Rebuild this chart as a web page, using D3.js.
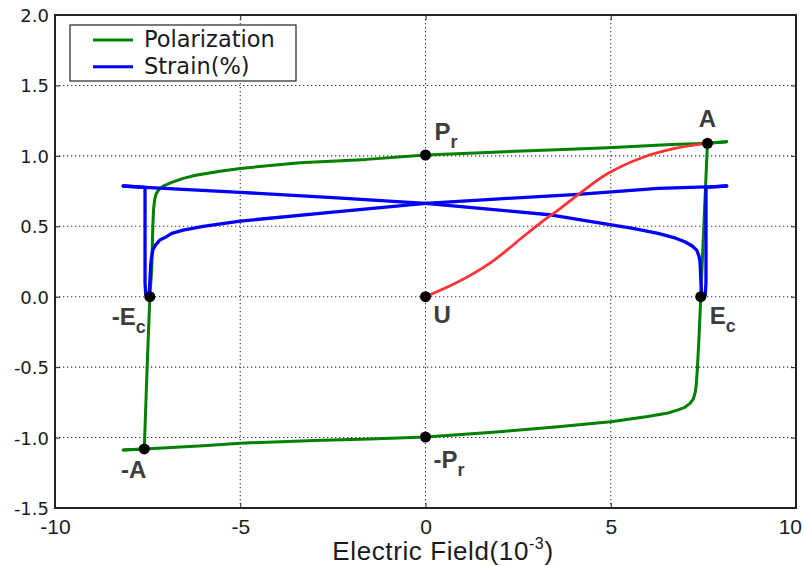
<!DOCTYPE html>
<html>
<head>
<meta charset="utf-8">
<script src="https://cdn.jsdelivr.net/npm/d3@7"></script>
<style>
  body { margin: 0; background: #fff; }
  svg { display: block; }
</style>
</head>
<body>
<svg id="chart" width="804" height="566"></svg>
<script>
// ---- Axis ticks ----
const xTicks = [-10, -5, 0, 5, 10];
const yTicks = [-1.5, -1.0, -0.5, 0.0, 0.5, 1.0, 1.5, 2.0];

// ---- Polarization hysteresis loop ----
// Rising branch: field increasing from the negative tip to the positive tip
const polRiseE = [-8.16, -7.59, -6.0, -5.0, -3.0, -1.5, 0.0, 2.01, 3.5, 5.0, 6.0, 6.51, 6.8, 7.0, 7.14, 7.23, 7.28, 7.31, 7.34, 7.38, 7.43, 7.52, 7.61, 8.13];
const polRiseP = [-1.088, -1.081, -1.058, -1.040, -1.020, -1.010, -0.996, -0.958, -0.925, -0.887, -0.850, -0.828, -0.805, -0.785, -0.757, -0.725, -0.680, -0.620, -0.500, -0.300, 0.0, 0.550, 1.089, 1.100];
// Falling branch: field decreasing from the positive tip to the negative tip
const polFallE = [8.13, 7.61, 6.5, 4.93, 3.0, 2.0, 0.0, -1.59, -3.39, -5.0, -5.55, -6.2, -6.54, -6.85, -7.08, -7.20, -7.27, -7.31, -7.34, -7.36, -7.39, -7.44, -7.52, -7.59, -8.16];
const polFallP = [1.100, 1.089, 1.078, 1.058, 1.038, 1.028, 1.006, 0.975, 0.951, 0.911, 0.890, 0.862, 0.840, 0.812, 0.785, 0.760, 0.730, 0.690, 0.620, 0.500, 0.190, 0.0, -0.550, -1.081, -1.088];

// ---- Strain butterfly loop (%) ----
const strainFallE = [8.13, 7.81, 6.28, 4.12, 2.0, 0.0, -2.5, -5.0, -6.0, -6.54, -6.85, -7.0, -7.17, -7.28, -7.36, -7.40, -7.42, -7.44, -7.46, -7.50, -7.55, -7.57, -7.57, -8.16];
const strainFallS = [0.786, 0.781, 0.769, 0.727, 0.695, 0.663, 0.600, 0.537, 0.500, 0.473, 0.450, 0.425, 0.402, 0.370, 0.331, 0.270, 0.213, 0.100, 0.020, -0.008, 0.010, 0.100, 0.776, 0.786];
const strainRiseE = [-8.16, -7.44, -5.0, -2.5, 0.0, 1.7, 3.41, 4.93, 5.6, 6.28, 6.7, 7.0, 7.2, 7.32, 7.38, 7.41, 7.43, 7.45, 7.50, 7.55, 7.57, 7.57, 8.13];
const strainRiseS = [0.786, 0.774, 0.741, 0.703, 0.663, 0.622, 0.580, 0.514, 0.485, 0.450, 0.420, 0.390, 0.360, 0.331, 0.290, 0.248, 0.120, 0.030, -0.008, 0.010, 0.100, 0.776, 0.786];

// ---- Initial (virgin) polarization curve from U to A ----
const virginE = [0.0, 0.885, 1.79, 2.69, 3.14, 3.58, 4.22, 4.93, 5.84, 6.73, 7.61];
const virginP = [0.0, 0.106, 0.248, 0.438, 0.532, 0.615, 0.745, 0.876, 0.987, 1.053, 1.089];

// ---- Marked states ----
const markerMain = ["A", "P", "U", "E", "-P", "-A", "-E"];
const markerSub  = ["",  "r", "",  "c", "r",  "",   "c"];
const markerE    = [7.61, 0.0, 0.0, 7.43, 0.0, -7.59, -7.44];
const markerP    = [1.089, 1.006, 0.0, 0.0, -0.996, -1.081, 0.0];

// ---- Legend ----
const legendNames = ["Polarization", "Strain(%)"];

// ---------------------------------------------------------------
const svg = d3.select("#chart");
const plotL = 55, plotR = 796, plotT = 15, plotB = 508;
const pageW = 804;

const x = d3.scaleLinear().domain([-10, 10]).range([plotL, plotR]);
const y = d3.scaleLinear().domain([-1.5, 2.0]).range([plotB, plotT]);

const GREEN = "#008000", BLUE = "#0000ff", RED = "#ff3333";
const labelColor = "#3d3d3d";

// Grid (dotted)
const grid = svg.append("g");
grid.selectAll("line.gx").data(xTicks.slice(1, -1)).join("line")
  .attr("x1", d => x(d)).attr("x2", d => x(d))
  .attr("y1", plotT).attr("y2", plotB)
  .attr("stroke", "#333").attr("stroke-width", 1.1).attr("stroke-dasharray", "1.3,2.7");
grid.selectAll("line.gy").data(yTicks.slice(1, -1)).join("line")
  .attr("y1", d => y(d)).attr("y2", d => y(d))
  .attr("x1", plotL).attr("x2", plotR)
  .attr("stroke", "#333").attr("stroke-width", 1.1).attr("stroke-dasharray", "1.3,2.7");

// Axes with inward ticks on all four sides
const fmtY = d => d3.format(".1f")(d).replace("−", "-");
const axB = svg.append("g").attr("transform", `translate(0,${plotB})`)
  .call(d3.axisBottom(x).tickValues(xTicks).tickSizeInner(-5).tickSizeOuter(0).tickFormat(d => String(d)));
const axT = svg.append("g").attr("transform", `translate(0,${plotT})`)
  .call(d3.axisTop(x).tickValues(xTicks).tickSizeInner(-5).tickSizeOuter(0).tickFormat(""));
const axL = svg.append("g").attr("transform", `translate(${plotL},0)`)
  .call(d3.axisLeft(y).tickValues(yTicks).tickSizeInner(-5).tickSizeOuter(0).tickFormat(fmtY));
const axR = svg.append("g").attr("transform", `translate(${plotR},0)`)
  .call(d3.axisRight(y).tickValues(yTicks).tickSizeInner(-5).tickSizeOuter(0).tickFormat(""));

[axB, axT, axL, axR].forEach(a => {
  a.select(".domain").remove();
  a.selectAll(".tick line").attr("stroke", "#222").attr("stroke-width", 1);
});
axB.selectAll(".tick text")
  .attr("y", 26).attr("dy", 0)
  .attr("font-family", "'Liberation Sans', Arial, sans-serif")
  .attr("font-size", 21).attr("fill", "#1a1a1a");
// keep the last x label inside the page
axB.selectAll(".tick text").each(function () {
  const bb = this.getBBox();
  const tx = +this.parentNode.getAttribute("transform").match(/translate\(([-\d.]+)/)[1];
  const overflow = tx + bb.x + bb.width - (pageW - 2);
  if (overflow > 0) d3.select(this).attr("x", -overflow);
});
axL.selectAll(".tick text")
  .attr("x", -6).attr("dy", "0.36em")
  .attr("font-family", "'DejaVu Sans', sans-serif")
  .attr("font-size", 18).attr("fill", "#1a1a1a");

// Frame
svg.append("rect")
  .attr("x", plotL).attr("y", plotT)
  .attr("width", plotR - plotL).attr("height", plotB - plotT)
  .attr("fill", "none").attr("stroke", "#222").attr("stroke-width", 2);

// Curves
const lineSharp = d3.line().x(d => x(d[0])).y(d => y(d[1])).curve(d3.curveLinear);
const lineSmooth = d3.line().x(d => x(d[0])).y(d => y(d[1])).curve(d3.curveCatmullRom.alpha(0.5));
const plot = svg.append("g").attr("fill", "none").attr("stroke-linejoin", "round").attr("stroke-linecap", "round");

plot.append("path").datum(d3.zip(polRiseE, polRiseP))
  .attr("d", lineSharp).attr("stroke", GREEN).attr("stroke-width", 3);
plot.append("path").datum(d3.zip(polFallE, polFallP))
  .attr("d", lineSharp).attr("stroke", GREEN).attr("stroke-width", 3);

plot.append("path").datum(d3.zip(strainFallE, strainFallS))
  .attr("d", lineSharp).attr("stroke", BLUE).attr("stroke-width", 3.3);
plot.append("path").datum(d3.zip(strainRiseE, strainRiseS))
  .attr("d", lineSharp).attr("stroke", BLUE).attr("stroke-width", 3.3);

plot.append("path").datum(d3.zip(virginE, virginP))
  .attr("d", lineSmooth).attr("stroke", RED).attr("stroke-width", 2.8);

// State markers
const markers = d3.range(markerMain.length).map(i => ({
  main: markerMain[i], sub: markerSub[i], e: markerE[i], p: markerP[i]
}));
svg.append("g").selectAll("circle").data(markers).join("circle")
  .attr("cx", d => x(d.e)).attr("cy", d => y(d.p)).attr("r", 5.5).attr("fill", "#000");

// Label placement relative to each marker (pixel offsets)
const labelPlace = {
  "A":  { dx: 0,  dy: -16, anchor: "middle" },
  "Pr": { dx: 9,  dy: -15, anchor: "start" },
  "U":  { dx: 8,  dy: 26,  anchor: "start" },
  "Ec": { dx: 9,  dy: 27,  anchor: "start" },
  "-Pr":{ dx: 8,  dy: 31,  anchor: "start" },
  "-A": { dx: 2,  dy: 29,  anchor: "end" },
  "-Ec":{ dx: -4, dy: 28,  anchor: "end" }
};
markers.forEach(m => {
  const pl = labelPlace[m.main + m.sub];
  const t = svg.append("text")
    .attr("x", x(m.e) + pl.dx).attr("y", y(m.p) + pl.dy)
    .attr("text-anchor", pl.anchor)
    .attr("font-family", "'Liberation Sans', Arial, sans-serif")
    .attr("font-weight", "bold").attr("font-size", 24).attr("fill", labelColor);
  t.append("tspan").text(m.main);
  if (m.sub) t.append("tspan").attr("dy", 8).attr("font-size", 18).text(m.sub);
});

// Legend
const lg = svg.append("g");
lg.append("rect").attr("x", 70).attr("y", 25).attr("width", 226).attr("height", 56)
  .attr("fill", "#fff").attr("stroke", "#222").attr("stroke-width", 1.2);
const legendColors = [GREEN, BLUE];
legendNames.forEach((name, i) => {
  const yy = 40 + i * 26.7;
  lg.append("line").attr("x1", 93).attr("x2", 133).attr("y1", yy).attr("y2", yy)
    .attr("stroke", legendColors[i]).attr("stroke-width", 3);
  lg.append("text").attr("x", 144).attr("y", yy + 7)
    .attr("font-family", "'DejaVu Sans', sans-serif").attr("font-size", 22.5)
    .attr("fill", "#1a1a1a").text(name);
});

// Axis title
const title = svg.append("text")
  .attr("x", 443).attr("y", 560).attr("text-anchor", "middle")
  .attr("font-family", "'Liberation Sans', Arial, sans-serif")
  .attr("font-size", 26).attr("letter-spacing", 0.6).attr("fill", "#1a1a1a");
title.append("tspan").text("Electric Field(10");
title.append("tspan").attr("dy", -11).attr("font-size", 16).text("-3");
title.append("tspan").attr("dy", 11).text(")");
</script>
</body>
</html>
